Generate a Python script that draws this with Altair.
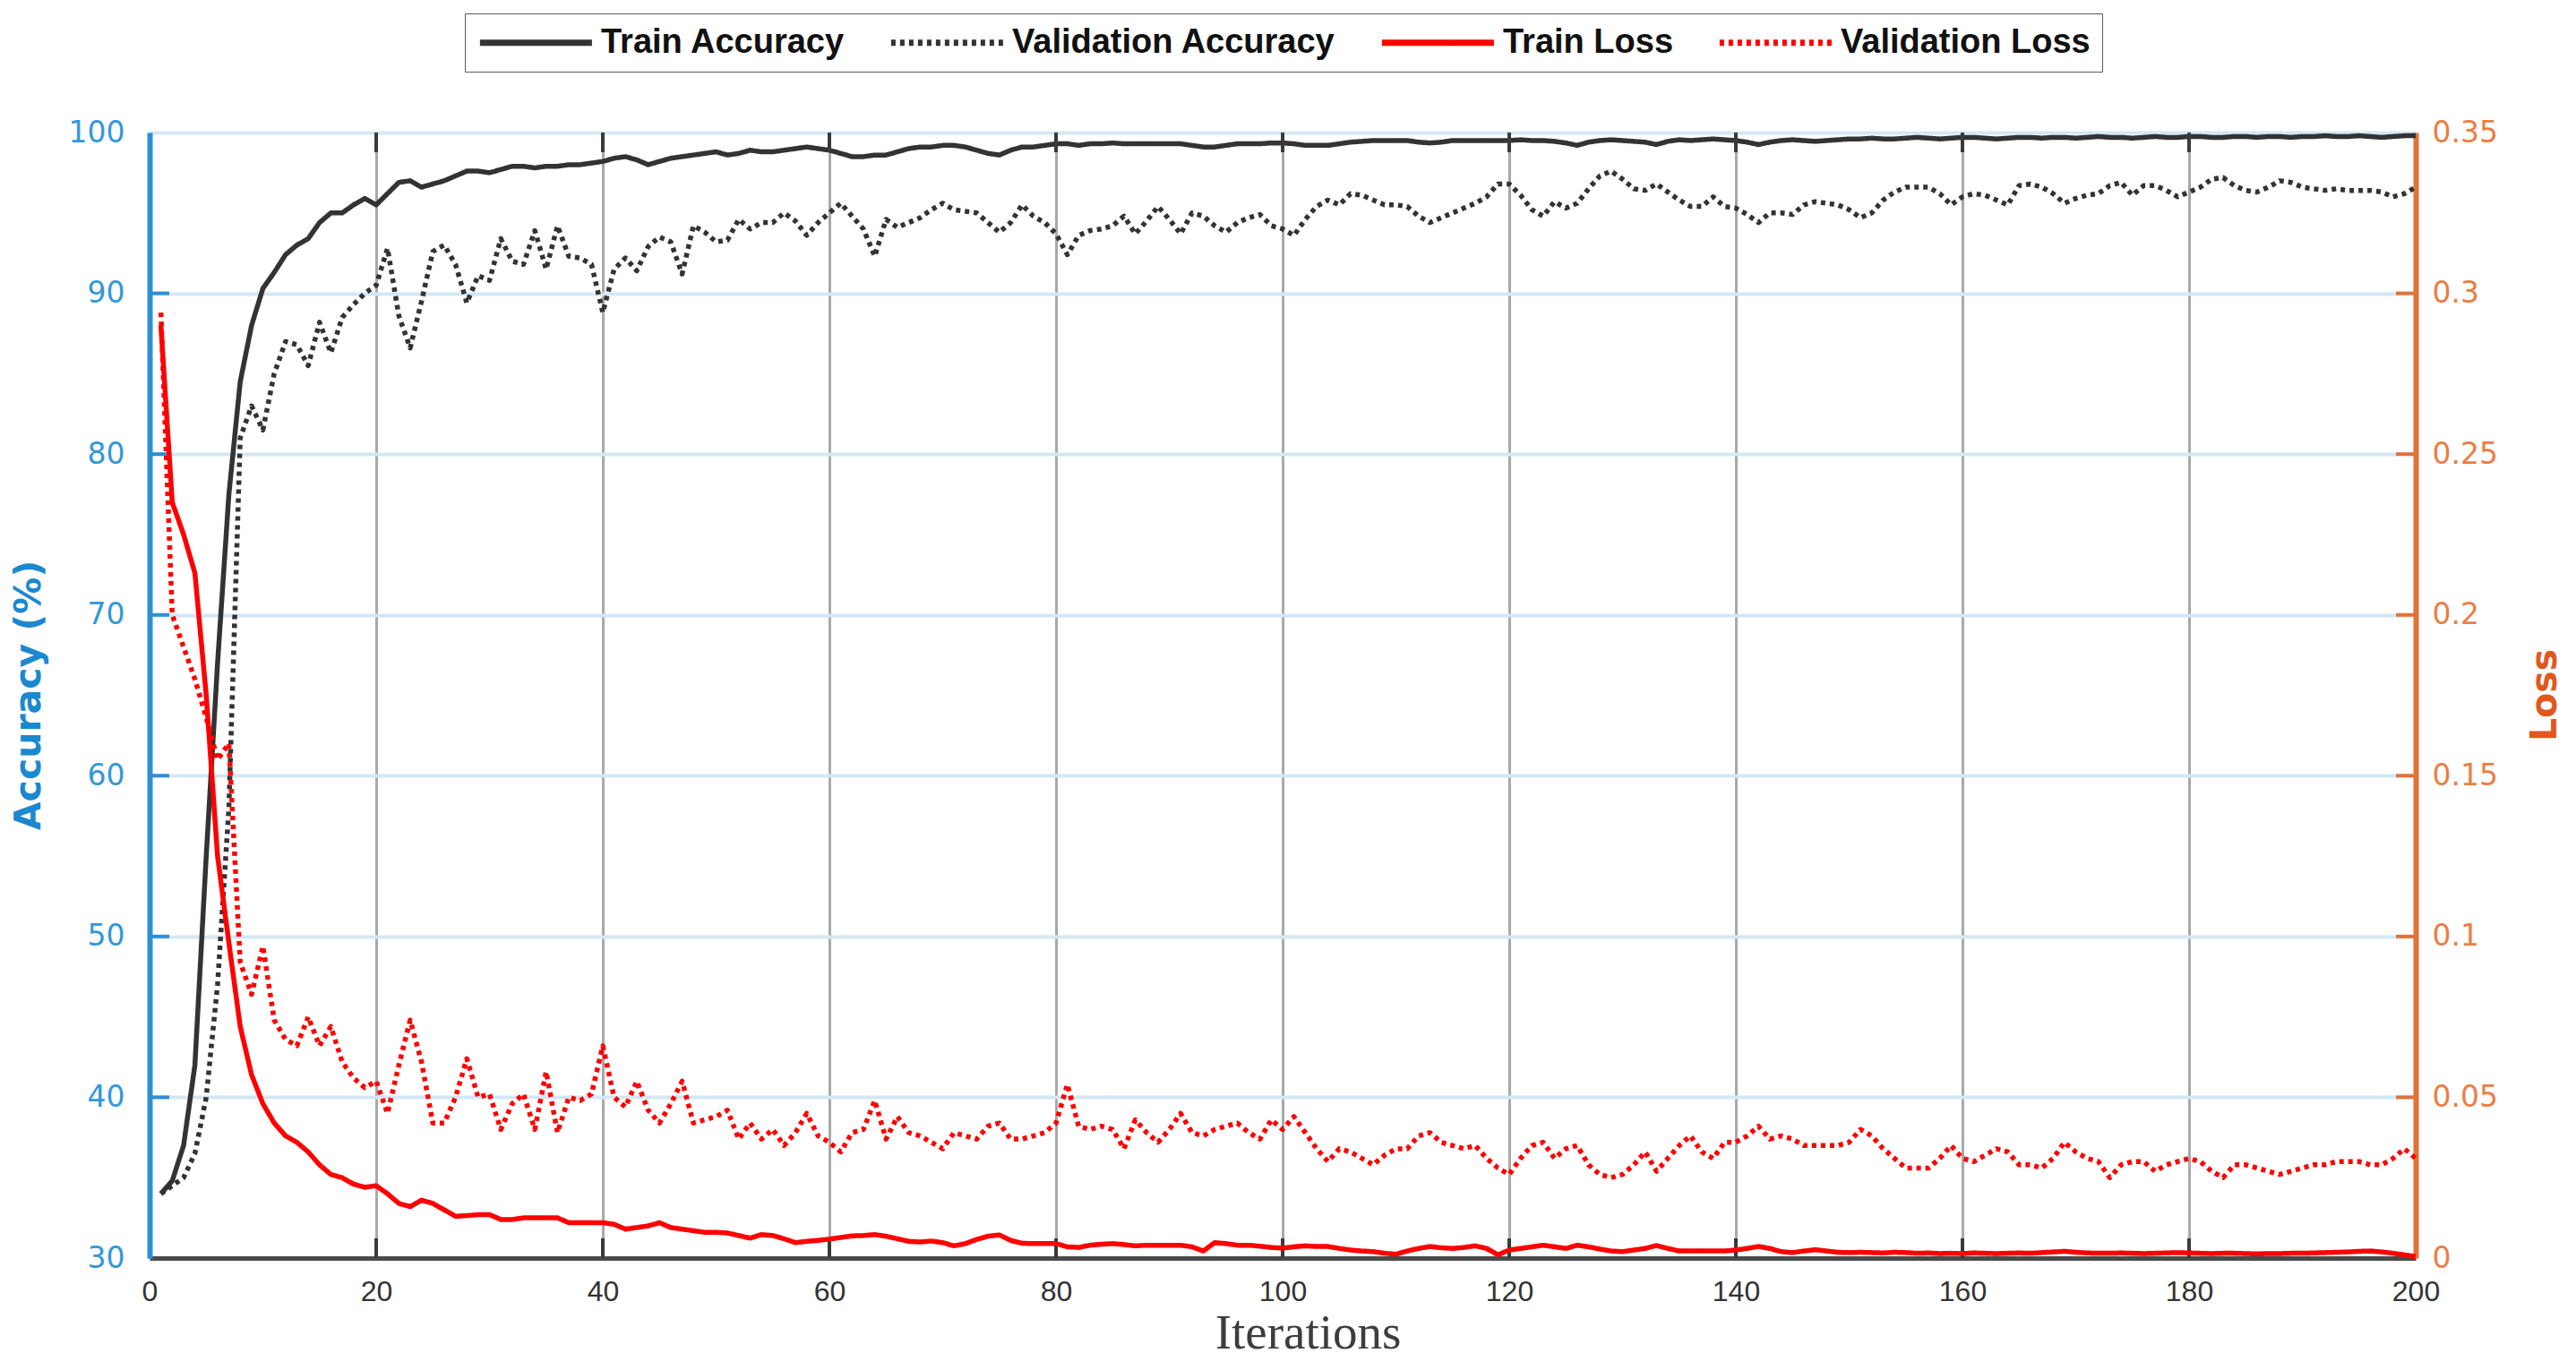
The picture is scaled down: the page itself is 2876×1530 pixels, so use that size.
import altair as alt
import pandas as pd

iterations = list(range(1, 201))

train_acc = [
    34.0, 34.8, 37.0, 42.0, 55.0, 67.0, 77.5, 84.5, 88.0, 90.3,
    91.3, 92.4, 93.0, 93.4, 94.4, 95.0, 95.0, 95.5, 95.9, 95.5,
    96.2, 96.9, 97.0, 96.6, 96.8, 97.0, 97.3, 97.6, 97.6, 97.5,
    97.7, 97.9, 97.9, 97.8, 97.9, 97.9, 98.0, 98.0, 98.1, 98.2,
    98.4, 98.5, 98.3, 98.0, 98.2, 98.4, 98.5, 98.6, 98.7, 98.8,
    98.6, 98.7, 98.9, 98.8, 98.8, 98.9, 99.0, 99.1, 99.0, 98.9,
    98.7, 98.5, 98.5, 98.6, 98.6, 98.8, 99.0, 99.1, 99.1, 99.2,
    99.2, 99.1, 98.9, 98.7, 98.6, 98.9, 99.1, 99.1, 99.2, 99.3,
    99.3, 99.2, 99.3, 99.3, 99.35, 99.3, 99.3, 99.3, 99.3, 99.3,
    99.3, 99.2, 99.1, 99.1, 99.2, 99.3, 99.3, 99.3, 99.35, 99.35,
    99.3, 99.2, 99.2, 99.2, 99.3, 99.4, 99.45, 99.5, 99.5, 99.5,
    99.5, 99.4, 99.35, 99.4, 99.5, 99.5, 99.5, 99.5, 99.5, 99.5,
    99.55, 99.5, 99.5, 99.45, 99.35, 99.2, 99.4, 99.5, 99.55, 99.5,
    99.45, 99.4, 99.25, 99.45, 99.55, 99.5, 99.55, 99.6, 99.55, 99.5,
    99.4, 99.25, 99.4, 99.5, 99.55, 99.5, 99.45, 99.5, 99.55, 99.6,
    99.6, 99.65, 99.6, 99.6, 99.65, 99.7, 99.65, 99.6, 99.65, 99.7,
    99.7, 99.65, 99.6, 99.65, 99.7, 99.7, 99.65, 99.7, 99.7, 99.65,
    99.7, 99.75, 99.7, 99.7, 99.65, 99.7, 99.75, 99.7, 99.7, 99.75,
    99.75, 99.7, 99.7, 99.75, 99.75, 99.7, 99.75, 99.75, 99.7, 99.75,
    99.75, 99.8, 99.75, 99.75, 99.8, 99.75, 99.7, 99.75, 99.8, 99.8,
]

val_acc = [
    34.0, 34.5, 35.0, 36.5, 40.0, 47.0, 58.0, 81.0, 83.0, 81.5,
    85.0, 87.0, 86.8, 85.5, 88.2, 86.3, 88.5, 89.3, 90.0, 90.5,
    92.8, 88.6, 86.6, 89.5, 92.6, 93.0, 91.8, 89.4, 91.1, 90.8,
    93.4, 92.0, 91.8, 93.9, 91.5, 94.2, 92.3, 92.2, 91.8, 88.8,
    91.5, 92.2, 91.4, 92.9, 93.5, 93.2, 91.2, 94.2, 93.8, 93.2,
    93.3, 94.6, 94.0, 94.4, 94.4, 95.0, 94.5, 93.6, 94.4, 95.0,
    95.6, 94.8, 94.0, 92.3, 94.6, 94.1, 94.4, 94.7, 95.2, 95.6,
    95.2, 95.1, 95.0, 94.4, 93.8, 94.4, 95.5, 94.8, 94.4, 93.7,
    92.4, 93.6, 93.9, 94.0, 94.2, 94.8, 93.7, 94.5, 95.4, 94.6,
    93.7, 95.0, 94.8, 94.2, 93.8, 94.4, 94.7, 94.9, 94.2, 94.0,
    93.6, 94.6, 95.4, 95.8, 95.5, 96.2, 96.1, 95.8, 95.5, 95.5,
    95.4, 94.8, 94.4, 94.7, 95.0, 95.3, 95.6, 96.0, 96.8, 96.8,
    96.1, 95.2, 94.8, 95.7, 95.3, 95.6, 96.5, 97.3, 97.6, 97.1,
    96.5, 96.4, 96.8, 96.3, 95.8, 95.4, 95.4, 96.0, 95.4, 95.3,
    94.9, 94.4, 95.0, 95.0, 94.9, 95.5, 95.7, 95.6, 95.5, 95.2,
    94.7, 95.0, 95.8, 96.3, 96.6, 96.6, 96.6, 96.2, 95.5, 96.0,
    96.2, 96.1, 95.8, 95.5, 96.7, 96.8, 96.6, 96.2, 95.6, 95.9,
    96.1, 96.2, 96.7, 96.9, 96.1, 96.7, 96.7, 96.4, 96.0, 96.3,
    96.6, 97.1, 97.2, 96.7, 96.4, 96.3, 96.6, 97.0, 96.9, 96.6,
    96.5, 96.4, 96.5, 96.4, 96.4, 96.4, 96.3, 96.0, 96.2, 96.6,
]

train_loss = [
    0.290, 0.235, 0.225, 0.213, 0.175, 0.125, 0.098, 0.072, 0.057, 0.048,
    0.042, 0.038, 0.036, 0.033, 0.029, 0.026, 0.025, 0.023, 0.022, 0.0225,
    0.020, 0.017, 0.016, 0.018, 0.017, 0.015, 0.013, 0.0132, 0.0135, 0.0135,
    0.012, 0.012, 0.0125, 0.0125, 0.0125, 0.0125, 0.011, 0.011, 0.011, 0.011,
    0.0105, 0.009, 0.0095, 0.010, 0.011, 0.0095, 0.009, 0.0085, 0.008, 0.008,
    0.0078, 0.007, 0.0062, 0.0073, 0.007, 0.006, 0.0048, 0.0052, 0.0055, 0.0059,
    0.0064, 0.0069, 0.007, 0.0073, 0.0068, 0.006, 0.0052, 0.005, 0.0053, 0.0048,
    0.0038, 0.0045, 0.0058, 0.0068, 0.0072, 0.0055, 0.0046, 0.0045, 0.0045, 0.0045,
    0.0035, 0.0033, 0.004, 0.0043, 0.0045, 0.0042, 0.0038, 0.004, 0.004, 0.004,
    0.004, 0.0035, 0.0022, 0.0048, 0.0045, 0.004, 0.004, 0.0037, 0.0033, 0.0031,
    0.0035, 0.0038, 0.0036, 0.0036, 0.003, 0.0025, 0.0022, 0.002, 0.0015, 0.0012,
    0.0022, 0.003, 0.0036, 0.0032, 0.003, 0.0033, 0.0038, 0.003, 0.001, 0.0025,
    0.003, 0.0035, 0.004, 0.0035, 0.003, 0.004, 0.0035, 0.0028, 0.0022, 0.002,
    0.0025, 0.003, 0.0039, 0.003, 0.0022, 0.0022, 0.0022, 0.0022, 0.0022, 0.0025,
    0.003, 0.0036, 0.003, 0.002, 0.0017, 0.0022, 0.0026, 0.0022, 0.0018, 0.0017,
    0.0018, 0.0017, 0.0016, 0.0018, 0.0017, 0.0015, 0.0016, 0.0014, 0.0015, 0.0014,
    0.0016, 0.0015, 0.0014, 0.0015, 0.0016, 0.0015, 0.0017, 0.0019, 0.0021, 0.0018,
    0.0016, 0.0015, 0.0015, 0.0016, 0.0015, 0.0014, 0.0015, 0.0016, 0.0017, 0.0016,
    0.0015, 0.0014, 0.0015, 0.0015, 0.0014, 0.0013, 0.0014, 0.0014, 0.0015, 0.0015,
    0.0016, 0.0017, 0.0018, 0.0019, 0.0021, 0.0022, 0.0019, 0.0015, 0.0010, 0.0005,
]

val_loss = [
    0.294, 0.200, 0.190, 0.180, 0.168, 0.155, 0.160, 0.092, 0.082, 0.097,
    0.074, 0.068, 0.066, 0.075, 0.066, 0.072, 0.061, 0.056, 0.053, 0.055,
    0.045, 0.060, 0.074, 0.061, 0.042, 0.042, 0.050, 0.062, 0.050, 0.051,
    0.040, 0.048, 0.051, 0.040, 0.058, 0.039, 0.050, 0.049, 0.051, 0.066,
    0.050, 0.047, 0.055, 0.046, 0.042, 0.048, 0.055, 0.042, 0.043, 0.044,
    0.046, 0.037, 0.042, 0.037, 0.040, 0.035, 0.039, 0.045, 0.038, 0.036,
    0.033, 0.039, 0.040, 0.049, 0.037, 0.044, 0.039, 0.038, 0.036, 0.034,
    0.039, 0.038, 0.037, 0.041, 0.042, 0.037, 0.037, 0.038, 0.039, 0.042,
    0.054, 0.041, 0.040, 0.041, 0.040, 0.034, 0.043, 0.039, 0.036, 0.040,
    0.045, 0.039, 0.038, 0.040, 0.041, 0.042, 0.039, 0.037, 0.043, 0.040,
    0.044, 0.039, 0.034, 0.030, 0.034, 0.033, 0.031, 0.029, 0.032, 0.034,
    0.034, 0.038, 0.039, 0.036, 0.035, 0.034, 0.035, 0.031, 0.028, 0.026,
    0.031, 0.035, 0.036, 0.031, 0.034, 0.035, 0.029, 0.026, 0.025, 0.026,
    0.029, 0.033, 0.027, 0.031, 0.035, 0.038, 0.033, 0.031, 0.036, 0.036,
    0.038, 0.041, 0.037, 0.038, 0.037, 0.035, 0.035, 0.035, 0.035, 0.036,
    0.040, 0.038, 0.034, 0.031, 0.028, 0.028, 0.028, 0.031, 0.035, 0.031,
    0.030, 0.032, 0.034, 0.033, 0.029, 0.029, 0.028, 0.031, 0.036, 0.033,
    0.031, 0.030, 0.025, 0.029, 0.030, 0.030, 0.027, 0.029, 0.030, 0.031,
    0.030, 0.027, 0.025, 0.029, 0.029, 0.028, 0.027, 0.026, 0.027, 0.028,
    0.029, 0.029, 0.030, 0.030, 0.030, 0.029, 0.029, 0.031, 0.034, 0.031,
]

series_names = ["Train Accuracy", "Validation Accuracy", "Train Loss", "Validation Loss"]
series_colors = ["#333333", "#333333", "#ff0000", "#ff0000"]
series_dash = [[1, 0], [5, 5], [1, 0], [5, 5]]

x_tick_values = [0, 20, 40, 60, 80, 100, 120, 140, 160, 180, 200]
acc_tick_values = [30, 40, 50, 60, 70, 80, 90, 100]
loss_tick_values = [0, 0.05, 0.1, 0.15, 0.2, 0.25, 0.3, 0.35]

assert len(train_acc) == len(val_acc) == len(train_loss) == len(val_loss) == 200

W, H = 2530, 1257

acc_df = pd.DataFrame({
    "iteration": iterations + iterations,
    "value": train_acc + val_acc,
    "series": [series_names[0]] * 200 + [series_names[1]] * 200,
})
loss_df = pd.DataFrame({
    "iteration": iterations + iterations,
    "value": train_loss + val_loss,
    "series": [series_names[2]] * 200 + [series_names[3]] * 200,
})

x_scale = alt.Scale(domain=[0, 200], nice=False, zero=False)
acc_scale = alt.Scale(domain=[30, 100], nice=False, zero=False)
loss_scale = alt.Scale(domain=[0, 0.35], nice=False)

x_axis = alt.Axis(
    values=x_tick_values, grid=True, gridColor="#a9a9a9", gridWidth=3,
    ticks=False, domainColor="#4a4a4a", domainWidth=5,
    labelFont="Liberation Sans", labelFontSize=32, labelColor="#333333",
    labelPadding=22, labelFlush=False,
    titleFont="Liberation Serif", titleFontSize=55, titleFontWeight="normal",
    titleColor="#3d3d3d", titleX=1293, titleY=100, titleBaseline="alphabetic",
)
acc_axis = alt.Axis(
    orient="left", values=acc_tick_values, grid=True, gridColor="#d3e7f6", gridWidth=4,
    ticks=False, domainColor="#2c8fd6", domainWidth=6,
    labelFont="DejaVu Sans", labelFontSize=33, labelColor="#3398d8",
    labelPadding=28, labelFlush=False,
    titleFont="DejaVu Sans", titleFontSize=41, titleFontWeight="bold",
    titleColor="#1b88d0", titleX=-114, titleY=628, titleAngle=270,
    titleBaseline="bottom", titleAlign="center",
)
loss_axis = alt.Axis(
    orient="right", values=loss_tick_values, grid=False, format="~g",
    ticks=False, domainColor="#e0733a", domainWidth=6,
    labelFont="DejaVu Sans", labelFontSize=33, labelColor="#ea7e45",
    labelPadding=18, labelFlush=False,
    titleFont="DejaVu Sans", titleFontSize=41, titleFontWeight="bold",
    titleColor="#e2571c", titleX=156, titleY=628, titleAngle=270,
    titleBaseline="alphabetic", titleAlign="center",
)

legend = alt.Legend(
    title=None, orient="none", legendX=352, legendY=-133, direction="horizontal",
    symbolType="M-1,0L7,0", symbolSize=977, symbolStrokeWidth=7,
    labelFont="Liberation Sans", labelFontSize=38, labelFontWeight="bold",
    labelColor="#111111", labelOffset=100, labelLimit=1000, columnPadding=36,
    padding=13, fillColor="white", strokeColor="#5a5a5a",
)

color_enc = alt.Color("series:N", scale=alt.Scale(domain=series_names, range=series_colors), legend=legend)
dash_enc = alt.StrokeDash("series:N", scale=alt.Scale(domain=series_names, range=series_dash), legend=legend)

x_enc = alt.X("iteration:Q", scale=x_scale, axis=x_axis, title="Iterations")

acc_lines = alt.Chart(acc_df).mark_line(strokeWidth=5.5, strokeJoin="round").encode(
    x=x_enc,
    y=alt.Y("value:Q", scale=acc_scale, axis=acc_axis, title="Accuracy (%)"),
    color=color_enc,
    strokeDash=dash_enc,
)
left_ticks = alt.Chart(pd.DataFrame({"value": acc_tick_values[1:-1]})).mark_rule(
    color="#2c8fd6", strokeWidth=4
).encode(
    y=alt.Y("value:Q", scale=acc_scale, axis=acc_axis, title="Accuracy (%)"),
    x=alt.value(0), x2=alt.value(22),
)
bottom_ticks = alt.Chart(pd.DataFrame({"iteration": x_tick_values[1:-1]})).mark_rule(
    color="#3a3a3a", strokeWidth=4
).encode(x=x_enc, y=alt.value(H - 22), y2=alt.value(H))
top_ticks = alt.Chart(pd.DataFrame({"iteration": x_tick_values[1:-1]})).mark_rule(
    color="#3a3a3a", strokeWidth=4
).encode(x=x_enc, y=alt.value(0), y2=alt.value(22))

loss_lines = alt.Chart(loss_df).mark_line(strokeWidth=5.5, strokeJoin="round").encode(
    x=x_enc,
    y=alt.Y("value:Q", scale=loss_scale, axis=loss_axis, title="Loss"),
    color=color_enc,
    strokeDash=dash_enc,
)
right_ticks = alt.Chart(pd.DataFrame({"value": loss_tick_values[1:-1]})).mark_rule(
    color="#e0733a", strokeWidth=4
).encode(
    y=alt.Y("value:Q", scale=loss_scale, axis=loss_axis, title="Loss"),
    x=alt.value(W - 22), x2=alt.value(W),
)

acc_layer = alt.layer(acc_lines, left_ticks, bottom_ticks, top_ticks)
loss_layer = alt.layer(loss_lines, right_ticks)

chart = alt.layer(acc_layer, loss_layer).resolve_scale(y="independent").properties(
    width=W, height=H,
    padding={"left": 159, "top": 140, "right": 171, "bottom": 117},
    autosize=alt.AutoSizeParams(type="none"),
).configure_view(
    stroke="#4a4a4a", strokeWidth=5
).configure_legend(
    strokeColor="#5a5a5a", strokeWidth=4
).configure(background="white")

chart.save("out.html", embed_options={"renderer": "svg", "actions": False})
